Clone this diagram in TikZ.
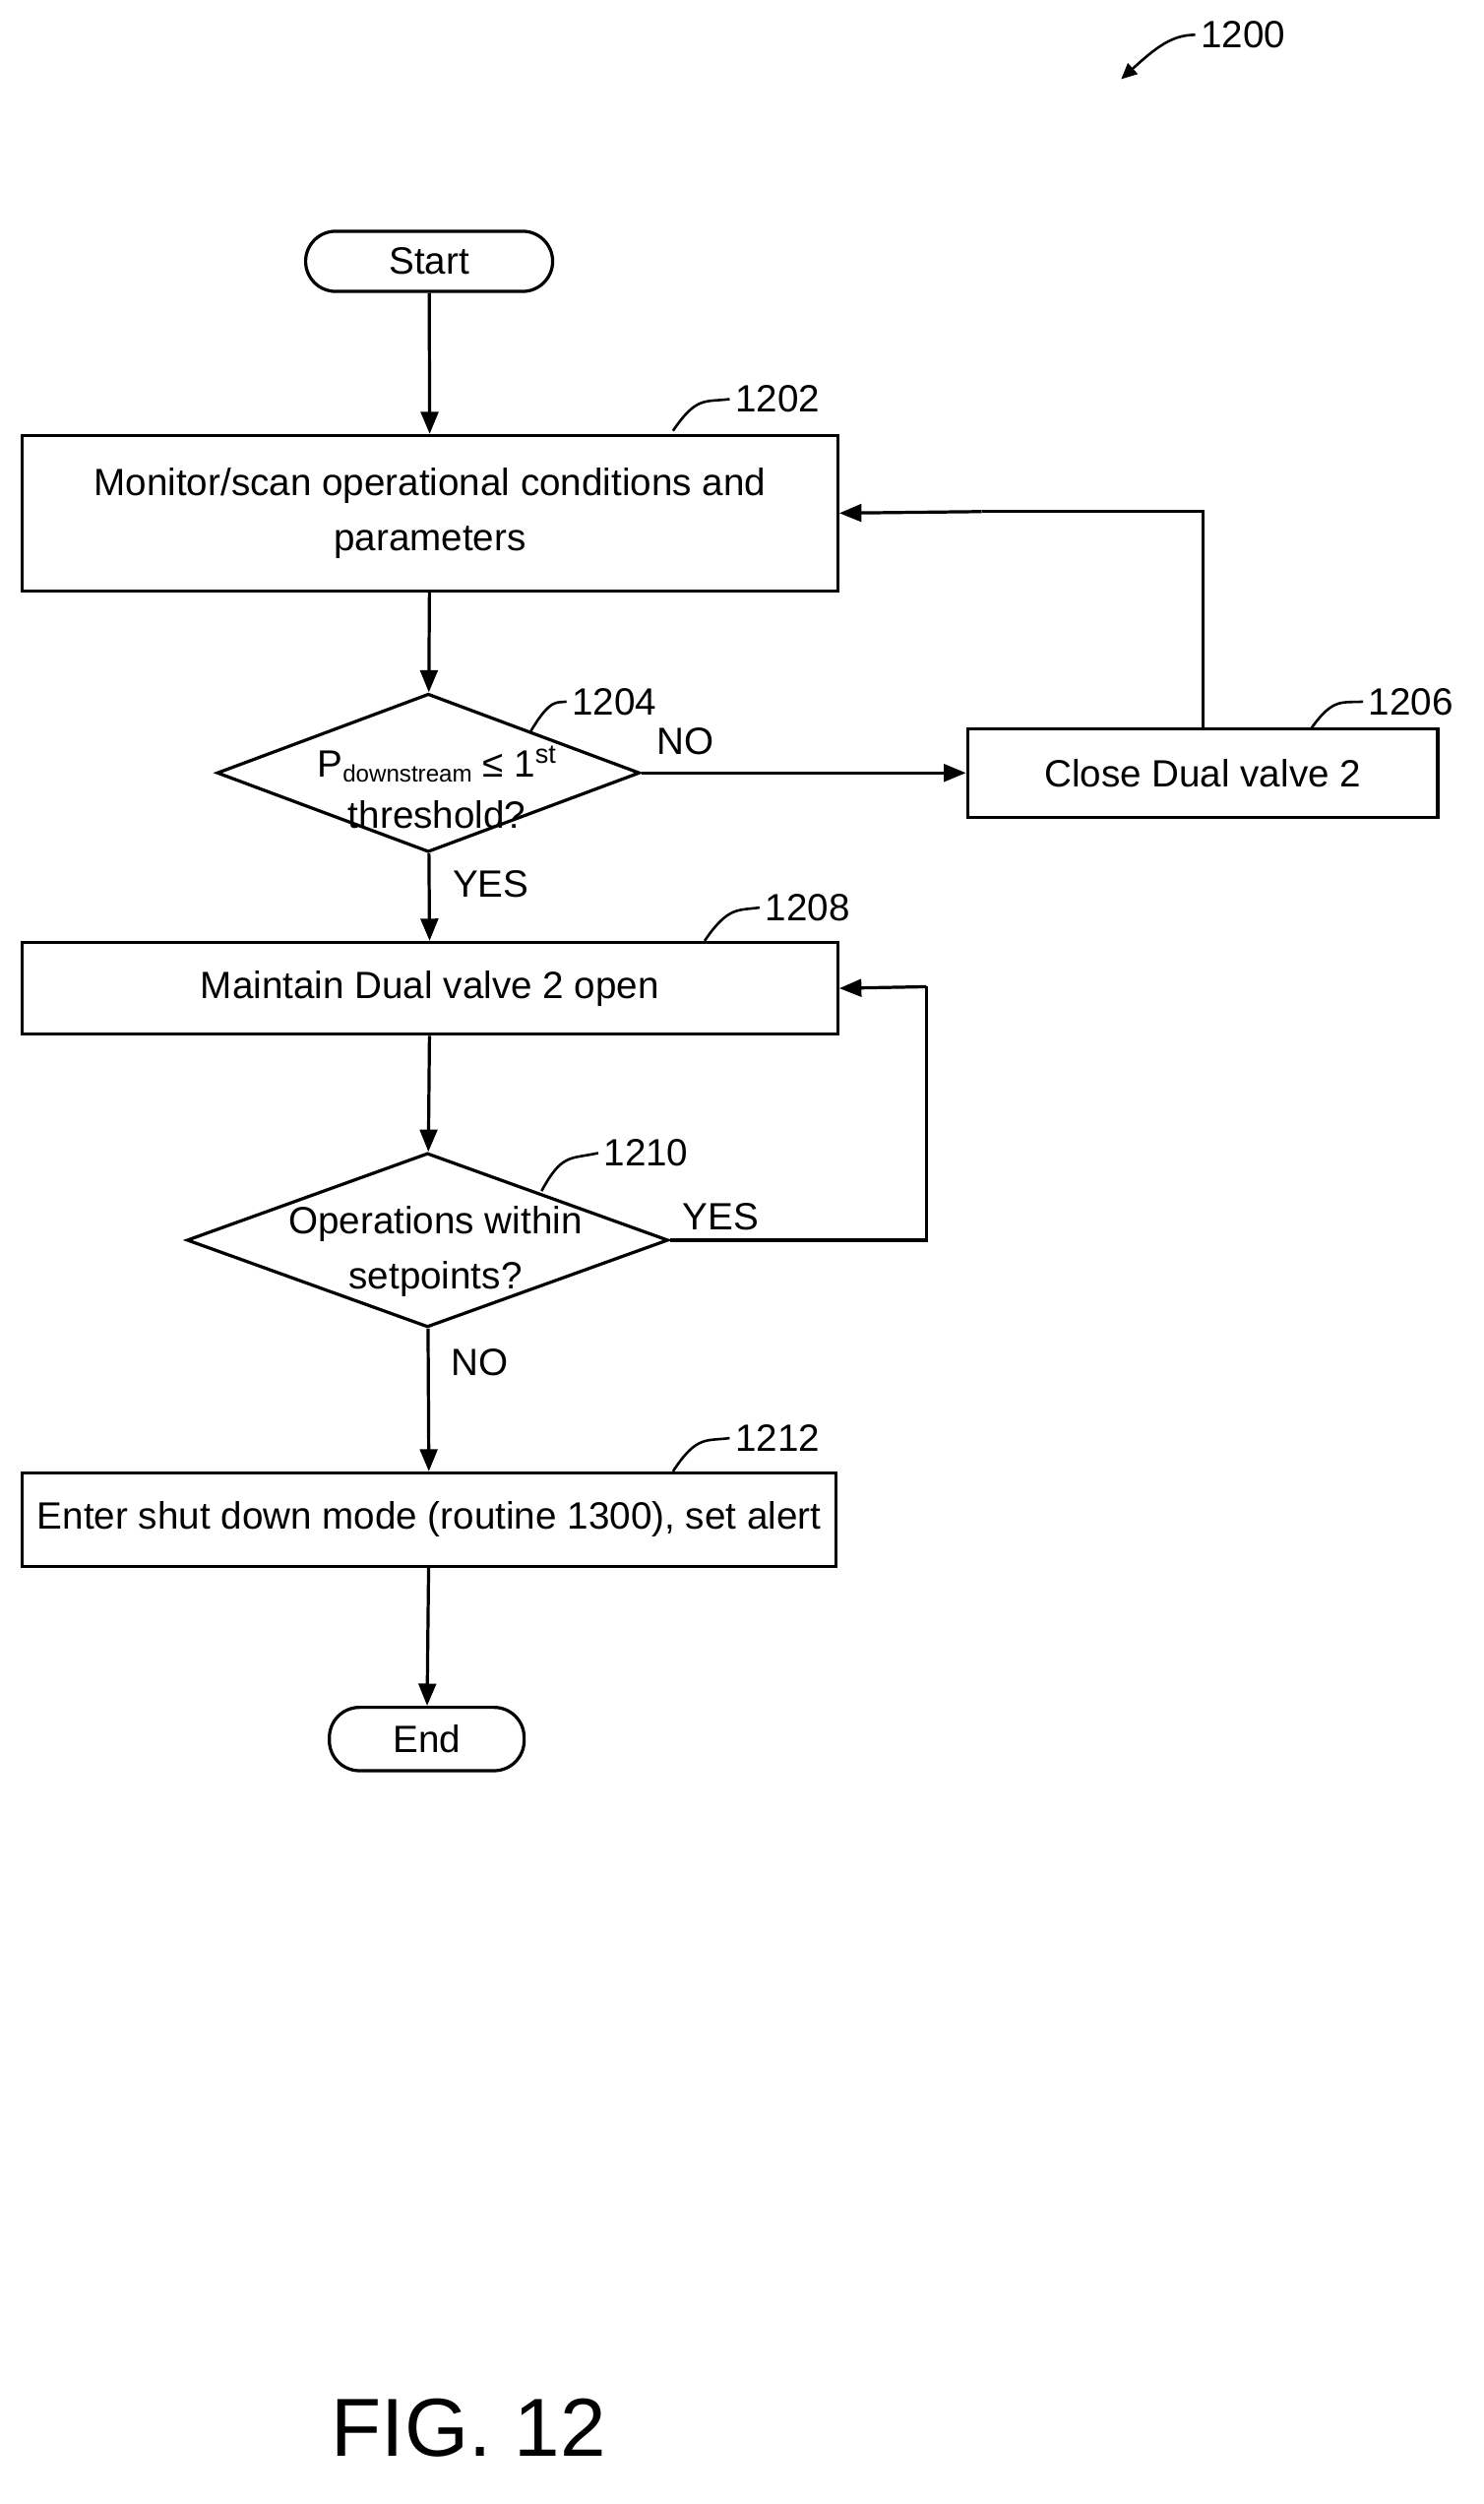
\documentclass[tikz,border=0pt]{standalone}
\usepackage{fontspec}
\setmainfont{Liberation Sans}
\usetikzlibrary{shapes.geometric,arrows.meta}
\begin{document}
\begin{tikzpicture}[x=1pt,y=-1pt,
  every node/.style={font=\fontsize{24}{35}\selectfont},
  box/.style={draw,line width=2pt,minimum height=#1,inner sep=0pt},
  dia/.style={draw,line width=2pt,diamond,aspect=2.67,inner sep=0pt},
  term/.style={draw,line width=2pt,rounded corners=19pt,minimum height=38pt,inner sep=0pt},
  arr/.style={line width=2pt,-{Triangle[length=14pt,width=11pt]}},
  ln/.style={line width=2pt},
  lab/.style={font=\fontsize{24}{28}\selectfont},
  sq/.style={line width=1.6pt}]
\useasboundingbox (0,0) rectangle (937,1581);
\node[term,minimum width=156pt] (start) at (271,165) {Start};
\node[box=98pt,minimum width=515pt,align=center] (b1) at (271.5,324) {Monitor/scan operational conditions and\\parameters};
\node[dia,minimum width=267pt,minimum height=100pt] (d1) at (270.5,488) {};
\node[align=center,font=\fontsize{24}{32}\selectfont] (d1t) at (276,497) {P{\fontsize{15}{16}\selectfont\raisebox{-0.4ex}{downstream}} ≤ 1\textsuperscript{st}\\threshold?};
\node[box=56pt,minimum width=297pt] (b2) at (759.5,488) {Close Dual valve 2};
\node[box=58pt,minimum width=515pt] (b3) at (271.5,624) {Maintain Dual valve 2 open};
\node[dia,minimum width=304pt,minimum height=110pt] (d2) at (270,783) {};
\node[align=center] (d2t) at (275,790) {Operations within\\setpoints?};
\node[box=59pt,minimum width=514pt] (b4) at (271,959.5) {Enter shut down mode (routine 1300), set alert};
\node[term,minimum width=123pt,minimum height=40pt] (end) at (269.5,1098) {End};
\draw[arr] (start) -- (b1);
\draw[arr] (b1) -- (d1);
\draw[arr] (d1.east) -- (b2.west);
\draw[ln] (b2.north) |- (620,323) coordinate (c1);
\draw[arr] (c1) -- (b1.east);
\draw[arr] (d1) -- (b3);
\draw[arr] (b3) -- (d2);
\draw[ln] (d2.east) -- (585,783) coordinate (c2) -- (585,623) coordinate (c3);
\draw[arr] (c3) -- (b3.east);
\draw[arr] (d2) -- (b4);
\draw[arr] (b4) -- (end);
\node[lab] (no1) at (433,468) {NO};
\node[lab] (yes1) at (310,558) {YES};
\node[lab] (yes2) at (455,768) {YES};
\node[lab] (no2) at (303,860) {NO};
\node[lab] (l1202) at (491,252) {1202};
\draw[sq] (425,272) .. controls (440,250) and (445,254) .. (l1202.west);
\node[lab] (l1204) at (388,443) {1204};
\draw[sq] (335,462) .. controls (348,440) and (352,444) .. (l1204.west);
\node[lab] (l1206) at (891,443) {1206};
\draw[sq] (828,460) .. controls (842,440) and (848,444) .. (l1206.west);
\node[lab] (l1208) at (510,573) {1208};
\draw[sq] (445,594) .. controls (460,572) and (466,575) .. (l1208.west);
\node[lab] (l1210) at (408,728) {1210};
\draw[sq] (342,752) .. controls (355,728) and (360,732) .. (l1210.west);
\node[lab] (l1212) at (491,908) {1212};
\draw[sq] (425,929) .. controls (440,906) and (446,910) .. (l1212.west);
\node[lab] (l1200) at (785,22) {1200};
\draw[sq,-{Triangle[length=10pt,width=9pt]}] (l1200.west) .. controls (740,22) and (730,30) .. (708,50);
\node[font=\fontsize{52}{56}\selectfont] (fig) at (296,1533) {FIG. 12};
\end{tikzpicture}
\end{document}
